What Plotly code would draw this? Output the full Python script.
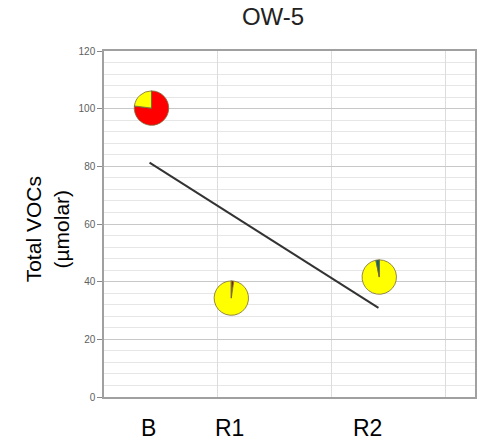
import plotly.graph_objects as go

# ---- data ----
samples = ["B", "R1", "R2"]
sample_x = [0.417, 1.118, 2.417]          # position of each pie on the x axis
label_x = [0.39, 1.10, 2.31]              # position of the category labels
total_vocs = [100.2, 34.3, 41.6]          # Total VOCs (µmolar), pie centres

components = ["Component 1", "Component 2", "Component 3", "Component 4"]
comp_colors = ["#FF0000", "#8B0000", "#FFFF00", "#006B6B"]
fractions = {
    "B":  [77.0, 0.0, 23.0, 0.0],
    "R1": [0.5, 1.8, 97.7, 0.0],
    "R2": [0.0, 0.0, 96.8, 3.2],
}

trend_x = [0.40, 2.41]
trend_y = [81.3, 30.9]

y_ticks = [0, 20, 40, 60, 80, 100, 120]

# ---- layout geometry ----
W, H = 487, 447
ML, MR, MT, MB = 104, 10, 51, 50
PW, PH = W - ML - MR, H - MT - MB
XR = [0, PW / 114.5]
YR = [0, 120]
PIE_R = 17.3

FONT = "Liberation Sans, Arial, sans-serif"

fig = go.Figure()

fig.add_trace(go.Scatter(
    x=trend_x, y=trend_y, mode="lines",
    line=dict(color="#333333", width=2), showlegend=False, hoverinfo="skip"))

for name, xv, yv in zip(samples, sample_x, total_vocs):
    cx = (xv - XR[0]) / (XR[1] - XR[0])
    cy = (yv - YR[0]) / (YR[1] - YR[0])
    dx = PIE_R / PW
    dy = PIE_R / PH
    fig.add_trace(go.Pie(
        labels=components, values=fractions[name],
        marker=dict(colors=comp_colors, line=dict(color="#7a6a3a", width=0.8)),
        sort=False, direction="clockwise", rotation=0,
        textinfo="none", showlegend=False, name=name,
        domain=dict(x=[cx - dx, cx + dx], y=[cy - dy, cy + dy])))

for lab, lx in zip(samples, label_x):
    fig.add_annotation(x=lx, xref="x", y=-(428 - 397) / PH, yref="paper",
                       text=lab, showarrow=False,
                       font=dict(size=23, color="#000000", family=FONT),
                       xanchor="center", yanchor="middle")

fig.add_annotation(x=(47 - ML) / PW, xref="paper", y=(397 - 229) / PH, yref="paper",
                   text="Total VOCs<br>(µmolar)", textangle=-90, showarrow=False,
                   font=dict(size=21, color="#000000", family=FONT),
                   xanchor="center", yanchor="middle")

fig.update_layout(
    width=W, height=H,
    margin=dict(l=ML, r=MR, t=MT, b=MB),
    paper_bgcolor="white", plot_bgcolor="white",
    title=dict(text="OW-5", x=273 / W, xanchor="center", y=1 - 17 / H, yanchor="middle",
               font=dict(size=24, color="#222222", family=FONT)),
    xaxis=dict(range=XR, dtick=1, tick0=0, showticklabels=False, ticks="",
               showgrid=True, gridcolor="#dcdcdc", gridwidth=1,
               showline=True, linecolor="#a0a0a0", linewidth=1.5, mirror=True,
               zeroline=False, fixedrange=True),
    yaxis=dict(range=YR, tickvals=y_ticks, ticks="outside", ticklen=5,
               tickcolor="#888888", tickfont=dict(size=10, color="#606060", family=FONT),
               showgrid=True, gridcolor="#c8c8c8", gridwidth=1,
               minor=dict(dtick=4, tick0=0, showgrid=True, gridcolor="#e6e6e6", gridwidth=1),
               showline=True, linecolor="#a0a0a0", linewidth=1.5, mirror=True,
               zeroline=False, fixedrange=True),
    font=dict(family=FONT),
)

fig.write_html("out.html")
